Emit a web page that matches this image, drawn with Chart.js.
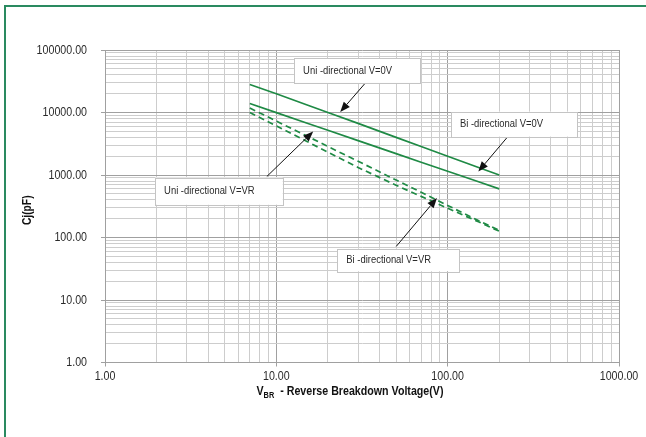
<!DOCTYPE html>
<html>
<head>
<meta charset="utf-8">
<title>Cj vs VBR</title>
<script src="https://cdn.jsdelivr.net/npm/chart.js@4"></script>
<style>
  html, body { margin: 0; padding: 0; background: #fff; overflow: hidden; }
  #wrap { position: relative; width: 646px; height: 437px; }
  #frame {
    position: absolute; left: 4px; top: 5px; width: 900px; height: 700px;
    border: 2px solid #2a8a60;
  }
  #chart { position: absolute; left: 0; top: 0; }
</style>
</head>
<body>
<div id="wrap">
  <div id="frame"></div>
  <canvas id="chart" width="646" height="437"></canvas>
</div>
<script>
// 데이터: 역항복전압(V) 별 접합 용량(pF)
const vbr = [7, 10, 15, 20, 30, 50, 70, 100, 150, 200];
const uniV0 = [28000, 20000, 13300, 10000, 6700, 4000, 2860, 2000, 1330, 1000];
const biV0 = [13900, 9950, 6800, 5190, 3550, 2200, 1600, 1150, 785, 600];
const uniVR = [11800, 7290, 4230, 2860, 1660, 830, 530, 326, 188, 130];
const biVR = [10000, 6100, 3470, 2320, 1320, 685, 455, 294, 180, 126];

// 축 눈금 (10의 거듭제곱)
const xDecades = [1, 10, 100, 1000];
const yDecades = [1, 10, 100, 1000, 10000, 100000];

// Arial Narrow 대용: Liberation Sans 를 가로로 82% 축소해서 그림
const FONT = '"Liberation Sans", Arial, sans-serif';
const NARROW = 0.82;
const LINE_GREEN = '#1f8a45';

// 주 눈금 + 보조 눈금(2..9)
function logTicks(decades) {
    const out = [];
    decades.forEach((d, i) => {
        out.push(d);
        if (i < decades.length - 1) {
            for (let k = 2; k <= 9; k++) out.push(d * k);
        }
    });
    return out;
}

function isDecade(v) {
    const l = Math.log10(v);
    return Math.abs(l - Math.round(l)) < 1e-9;
}

function toPoints(ys) {
    return vbr.map((v, i) => ({ x: v, y: ys[i] }));
}

function narrowText(ctx, text, x, y, align) {
    ctx.save();
    ctx.translate(x, y);
    ctx.scale(NARROW, 1);
    ctx.textAlign = align || 'left';
    ctx.fillText(text, 0, 0);
    ctx.restore();
}

function narrowWidth(ctx, text) {
    return ctx.measureText(text).width * NARROW;
}

// 주석 상자 / 화살표 (데이터 좌표)
const notes = [
    { text: 'Uni -directional V=0V', box: [12.7, 74500, 69.2, 29700], tail: [33.0, 29400], tip: [23.6, 10200] },
    { text: 'Bi -directional V=0V', box: [104.5, 10330, 569, 4120], tail: [222, 3970], tip: [151, 1137] },
    { text: 'Uni -directional V=VR', box: [1.96, 912, 10.9, 334], tail: [8.8, 946], tip: [16.4, 4950] },
    { text: 'Bi -directional V=VR', box: [22.7, 66.2, 117.4, 28.8], tail: [50.1, 72.1], tip: [86.6, 428] }
];

const notesPlugin = {
    id: 'notes',
    afterDatasetsDraw(chart) {
        const { ctx, scales: { x, y } } = chart;
        ctx.save();
        notes.forEach(n => {
            const x1 = x.getPixelForValue(n.box[0]);
            const y1 = y.getPixelForValue(n.box[1]);
            const x2 = x.getPixelForValue(n.box[2]);
            const y2 = y.getPixelForValue(n.box[3]);

            // 화살표
            const tx = x.getPixelForValue(n.tail[0]);
            const ty = y.getPixelForValue(n.tail[1]);
            const hx = x.getPixelForValue(n.tip[0]);
            const hy = y.getPixelForValue(n.tip[1]);
            const ang = Math.atan2(hy - ty, hx - tx);
            const len = 10, wid = 4;
            const bx = hx - len * Math.cos(ang);
            const by = hy - len * Math.sin(ang);
            ctx.strokeStyle = '#111';
            ctx.lineWidth = 1;
            ctx.beginPath();
            ctx.moveTo(tx, ty);
            ctx.lineTo(bx, by);
            ctx.stroke();
            ctx.fillStyle = '#111';
            ctx.beginPath();
            ctx.moveTo(hx, hy);
            ctx.lineTo(bx + wid * Math.sin(ang), by - wid * Math.cos(ang));
            ctx.lineTo(bx - wid * Math.sin(ang), by + wid * Math.cos(ang));
            ctx.closePath();
            ctx.fill();

            // 상자
            ctx.fillStyle = '#fff';
            ctx.fillRect(x1, y1, x2 - x1, y2 - y1);
            ctx.strokeStyle = '#c4c4c4';
            ctx.strokeRect(Math.round(x1) + 0.5, Math.round(y1) + 0.5, Math.round(x2 - x1), Math.round(y2 - y1));
            ctx.fillStyle = '#2a2a2a';
            ctx.font = '11.5px ' + FONT;
            ctx.textBaseline = 'middle';
            narrowText(ctx, n.text, x1 + 9, (y1 + y2) / 2, 'left');
        });
        ctx.restore();
    }
};

// 눈금 라벨 + 축 제목 (아래첨자 포함)
const labelsPlugin = {
    id: 'labels',
    afterDraw(chart) {
        const { ctx, chartArea, scales: { x, y } } = chart;
        ctx.save();

        ctx.fillStyle = '#2a2a2a';
        ctx.font = '13px ' + FONT;
        ctx.textBaseline = 'middle';
        yDecades.forEach(v => {
            narrowText(ctx, v.toFixed(2), chartArea.left - 18, y.getPixelForValue(v), 'right');
        });
        xDecades.forEach(v => {
            narrowText(ctx, v.toFixed(2), x.getPixelForValue(v), chartArea.bottom + 14, 'center');
        });

        ctx.fillStyle = '#111';
        ctx.textBaseline = 'alphabetic';
        const big = 'bold 13px ' + FONT;
        const small = 'bold 9px ' + FONT;
        const rest = '  - Reverse Breakdown Voltage(V)';
        ctx.font = big;
        const wV = narrowWidth(ctx, 'V');
        const wRest = narrowWidth(ctx, rest);
        ctx.font = small;
        const wSub = narrowWidth(ctx, 'BR');
        const total = wV + wSub + wRest;
        let cx = 350 - total / 2;
        const base = 395;
        ctx.font = big;
        narrowText(ctx, 'V', cx, base, 'left');
        cx += wV;
        ctx.font = small;
        narrowText(ctx, 'BR', cx, base + 3, 'left');
        cx += wSub;
        ctx.font = big;
        narrowText(ctx, rest, cx, base, 'left');

        ctx.translate(28, (chartArea.top + chartArea.bottom) / 2 + 4);
        ctx.rotate(-Math.PI / 2);
        ctx.textBaseline = 'middle';
        ctx.font = 'bold 12.5px ' + FONT;
        narrowText(ctx, 'Cj(pF)', 0, 0, 'center');
        ctx.restore();
    }
};

function gridColor(context) {
    return isDecade(context.tick.value) ? '#a0a0a0' : '#cdcdcd';
}
function tickColor(context) {
    return isDecade(context.tick.value) ? '#a0a0a0' : 'rgba(0,0,0,0)';
}

const lineBase = {
    borderColor: LINE_GREEN,
    borderWidth: 1.7,
    pointRadius: 0,
    tension: 0,
    fill: false
};

new Chart(document.getElementById('chart').getContext('2d'), {
    type: 'line',
    data: {
        datasets: [
            Object.assign({ label: 'Uni-directional V=0V', data: toPoints(uniV0) }, lineBase),
            Object.assign({ label: 'Bi-directional V=0V', data: toPoints(biV0) }, lineBase),
            Object.assign({ label: 'Uni-directional V=VR', data: toPoints(uniVR), borderDash: [6, 4] }, lineBase),
            Object.assign({ label: 'Bi-directional V=VR', data: toPoints(biVR), borderDash: [6, 4] }, lineBase)
        ]
    },
    options: {
        responsive: false,
        animation: false,
        layout: {
            padding: { left: 0, top: 50, right: 27, bottom: 0 }
        },
        plugins: {
            legend: { display: false },
            tooltip: { enabled: false }
        },
        scales: {
            x: {
                type: 'logarithmic',
                min: 1,
                max: 1000,
                afterBuildTicks: scale => {
                    scale.ticks = logTicks(xDecades).map(v => ({ value: v }));
                },
                afterFit: scale => { scale.height = 74.5; },
                grid: { color: gridColor, tickColor: tickColor, tickLength: 4, lineWidth: 1 },
                border: { color: '#a0a0a0' },
                ticks: { display: false, autoSkip: false }
            },
            y: {
                type: 'logarithmic',
                min: 1,
                max: 100000,
                afterBuildTicks: scale => {
                    scale.ticks = logTicks(yDecades).map(v => ({ value: v }));
                },
                afterFit: scale => { scale.width = 105; },
                grid: { color: gridColor, tickColor: tickColor, tickLength: 4, lineWidth: 1 },
                border: { color: '#a0a0a0' },
                ticks: { display: false, autoSkip: false }
            }
        }
    },
    plugins: [notesPlugin, labelsPlugin]
});
</script>
</body>
</html>
